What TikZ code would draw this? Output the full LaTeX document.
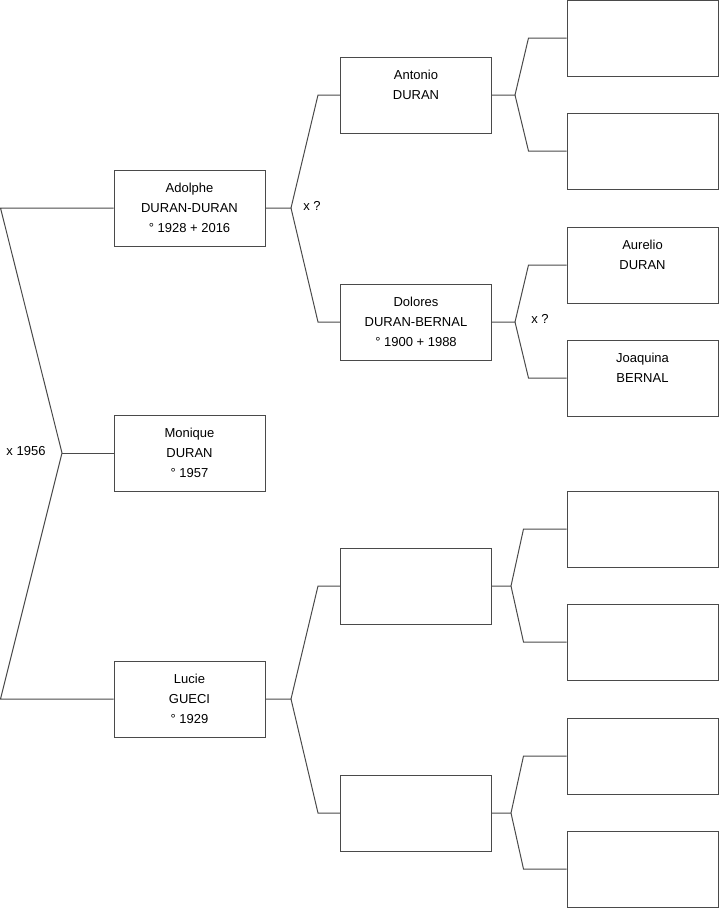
\documentclass[tikz,border=0pt]{standalone}
\usepackage{fontspec}
\setmainfont{Liberation Sans}
\usetikzlibrary{positioning}
\definecolor{boxline}{HTML}{4A4A4A}
\definecolor{linkline}{HTML}{4A4A4A}

\begin{document}
\begin{tikzpicture}[x=1pt,y=-1pt,
    every node/.style={font=\fontsize{13}{20}\selectfont},
    person/.style={draw=boxline,line width=1pt,minimum width=151pt,minimum height=76pt,align=center,inner sep=0pt},
    link/.style={draw=linkline,line width=1pt}]
    \useasboundingbox (0,0) rectangle (719,908);

    % generation 1
    \node[person] (adolphe) at (189.5,208) {Adolphe\\DURAN-DURAN\\° 1928 + 2016};
    \node[person] (monique) at (189.5,453) {Monique\\DURAN\\° 1957};
    \node[person] (lucie) at (189.5,699) {Lucie\\GUECI\\° 1929};

    % generation 2
    \node[person] (antonio) at (416,95) {Antonio\\DURAN\\~};
    \node[person] (dolores) at (416,322) {Dolores\\DURAN-BERNAL\\° 1900 + 1988};
    \node[person] (luciefa) at (416,586) {};
    \node[person] (luciemo) at (416,813) {};

    % generation 3
    \node[person] (antoniofa) at (642.5,38) {};
    \node[person] (antoniomo) at (642.5,151) {};
    \node[person] (aurelio) at (642.5,265) {Aurelio\\DURAN\\~};
    \node[person] (joaquina) at (642.5,378) {Joaquina\\BERNAL\\~};
    \node[person] (luciefafa) at (642.5,529) {};
    \node[person] (luciefamo) at (642.5,642) {};
    \node[person] (luciemofa) at (642.5,756) {};
    \node[person] (luciemomo) at (642.5,869) {};

    % junctions
    \coordinate (mj) at (62,453);
    \coordinate (aj) at (291,208);
    \coordinate (lj) at (291,699);
    \coordinate (anj) at (515,95);
    \coordinate (dj) at (515,322);
    \coordinate (lfj) at (511,586);
    \coordinate (lmj) at (511,813);

    % marriages
    \node (m1956) at (26,451) {x 1956};
    \node (mq1) at (312,206) {x ?};
    \node (mq2) at (540,319) {x ?};

    \draw[link] (monique.west) -- (mj);
    \draw[link] (adolphe.west) -- ++(-113,0) -- (mj) -- ([xshift=-113pt]lucie.west) -- (lucie.west);

    \draw[link] (adolphe.east) -- (aj) -- ([xshift=-22pt]antonio.west) -- (antonio.west);
    \draw[link] (aj) -- ([xshift=-22pt]dolores.west) -- (dolores.west);
    \draw[link] (lucie.east) -- (lj) -- ([xshift=-22pt]luciefa.west) -- (luciefa.west);
    \draw[link] (lj) -- ([xshift=-22pt]luciemo.west) -- (luciemo.west);

    \draw[link] (antonio.east) -- (anj) -- ([xshift=-38pt]antoniofa.west) -- (antoniofa.west);
    \draw[link] (anj) -- ([xshift=-38pt]antoniomo.west) -- (antoniomo.west);
    \draw[link] (dolores.east) -- (dj) -- ([xshift=-38pt]aurelio.west) -- (aurelio.west);
    \draw[link] (dj) -- ([xshift=-38pt]joaquina.west) -- (joaquina.west);
    \draw[link] (luciefa.east) -- (lfj) -- ([xshift=-43pt]luciefafa.west) -- (luciefafa.west);
    \draw[link] (lfj) -- ([xshift=-43pt]luciefamo.west) -- (luciefamo.west);
    \draw[link] (luciemo.east) -- (lmj) -- ([xshift=-43pt]luciemofa.west) -- (luciemofa.west);
    \draw[link] (lmj) -- ([xshift=-43pt]luciemomo.west) -- (luciemomo.west);
\end{tikzpicture}
\end{document}
